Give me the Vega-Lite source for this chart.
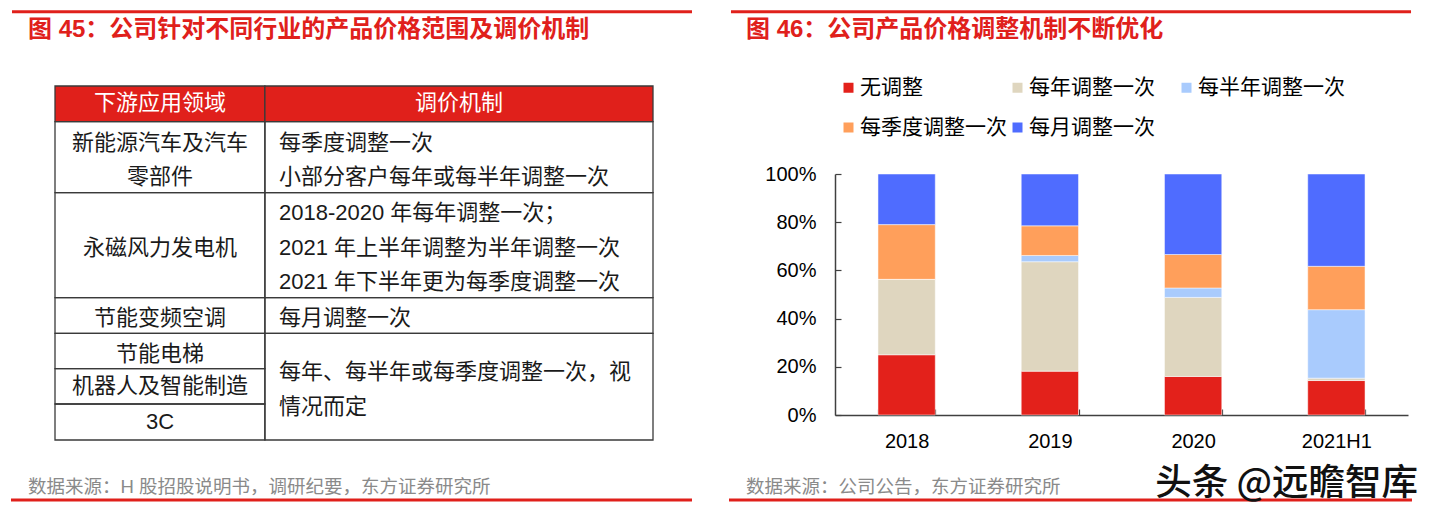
{
  "$schema": "https://vega.github.io/schema/vega-lite/v6.json",
  "width": 1433,
  "height": 516,
  "padding": 0,
  "autosize": {"type": "none"},
  "background": "white",
  "config": {
    "view": {"stroke": null},
    "font": "Liberation Sans, Noto Sans CJK SC",
    "text": {"font": "Liberation Sans, Noto Sans CJK SC"}
  },
  "datasets": {
    "bars": [
      {"period": "2018", "mechanism": "无调整", "rank": 1, "share": 25.0},
      {"period": "2018", "mechanism": "每年调整一次", "rank": 2, "share": 31.3},
      {"period": "2018", "mechanism": "每半年调整一次", "rank": 3, "share": 0.0},
      {"period": "2018", "mechanism": "每季度调整一次", "rank": 4, "share": 22.7},
      {"period": "2018", "mechanism": "每月调整一次", "rank": 5, "share": 21.0},
      {"period": "2019", "mechanism": "无调整", "rank": 1, "share": 18.2},
      {"period": "2019", "mechanism": "每年调整一次", "rank": 2, "share": 45.4},
      {"period": "2019", "mechanism": "每半年调整一次", "rank": 3, "share": 2.6},
      {"period": "2019", "mechanism": "每季度调整一次", "rank": 4, "share": 12.3},
      {"period": "2019", "mechanism": "每月调整一次", "rank": 5, "share": 21.5},
      {"period": "2020", "mechanism": "无调整", "rank": 1, "share": 16.0},
      {"period": "2020", "mechanism": "每年调整一次", "rank": 2, "share": 32.8},
      {"period": "2020", "mechanism": "每半年调整一次", "rank": 3, "share": 3.9},
      {"period": "2020", "mechanism": "每季度调整一次", "rank": 4, "share": 13.9},
      {"period": "2020", "mechanism": "每月调整一次", "rank": 5, "share": 33.4},
      {"period": "2021H1", "mechanism": "无调整", "rank": 1, "share": 14.3},
      {"period": "2021H1", "mechanism": "每年调整一次", "rank": 2, "share": 1.0},
      {"period": "2021H1", "mechanism": "每半年调整一次", "rank": 3, "share": 28.4},
      {"period": "2021H1", "mechanism": "每季度调整一次", "rank": 4, "share": 18.0},
      {"period": "2021H1", "mechanism": "每月调整一次", "rank": 5, "share": 38.3}
    ],
    "cells": [
      {"part": "head", "x0": 0, "x1": 0.351, "y0": 0, "y1": 10.08},
      {"part": "head", "x0": 0.351, "x1": 1, "y0": 0, "y1": 10.08},
      {"part": "body", "x0": 0, "x1": 0.351, "y0": 10.08, "y1": 30.14},
      {"part": "body", "x0": 0.351, "x1": 1, "y0": 10.08, "y1": 30.14},
      {"part": "body", "x0": 0, "x1": 0.351, "y0": 30.14, "y1": 59.8},
      {"part": "body", "x0": 0.351, "x1": 1, "y0": 30.14, "y1": 59.8},
      {"part": "body", "x0": 0, "x1": 0.351, "y0": 59.8, "y1": 69.86},
      {"part": "body", "x0": 0.351, "x1": 1, "y0": 59.8, "y1": 69.86},
      {"part": "body", "x0": 0, "x1": 0.351, "y0": 69.86, "y1": 79.86},
      {"part": "body", "x0": 0, "x1": 0.351, "y0": 79.86, "y1": 89.83},
      {"part": "body", "x0": 0, "x1": 0.351, "y0": 89.83, "y1": 100},
      {"part": "body", "x0": 0.351, "x1": 1, "y0": 69.86, "y1": 100}
    ],
    "texts": [
      {"col": "head", "xc": 0.1756, "line": 4.9, "t": "下游应用领域"},
      {"col": "head", "xc": 0.6756, "line": 4.9, "t": "调价机制"},
      {"col": "left", "xc": 0.1756, "line": 16.2, "t": "新能源汽车及汽车"},
      {"col": "left", "xc": 0.1756, "line": 25.8, "t": "零部件"},
      {"col": "left", "xc": 0.1756, "line": 45.8, "t": "永磁风力发电机"},
      {"col": "left", "xc": 0.1756, "line": 65.6, "t": "节能变频空调"},
      {"col": "left", "xc": 0.1756, "line": 75.7, "t": "节能电梯"},
      {"col": "left", "xc": 0.1756, "line": 84.7, "t": "机器人及智能制造"},
      {"col": "left", "xc": 0.1756, "line": 94.8, "t": "3C"},
      {"col": "right", "xc": 0.3746, "line": 16.2, "t": "每季度调整一次"},
      {"col": "right", "xc": 0.3746, "line": 25.8, "t": "小部分客户每年或每半年调整一次"},
      {"col": "right", "xc": 0.3746, "line": 36.0, "t": "2018-2020 年每年调整一次；"},
      {"col": "right", "xc": 0.3746, "line": 45.8, "t": "2021 年上半年调整为半年调整一次"},
      {"col": "right", "xc": 0.3746, "line": 55.3, "t": "2021 年下半年更为每季度调整一次"},
      {"col": "right", "xc": 0.3746, "line": 65.6, "t": "每月调整一次"},
      {"col": "right", "xc": 0.3746, "line": 80.7, "t": "每年、每半年或每季度调整一次，视"},
      {"col": "right", "xc": 0.3746, "line": 90.6, "t": "情况而定"}
    ]
  },
  "resolve": {"scale": {"x": "independent", "y": "independent"}},
  "layer": [
    {
      "data": {"name": "bars"},
      "mark": {"type": "bar", "stroke": "white", "strokeWidth": 0.5},
      "encoding": {
        "x": {
          "field": "period", "type": "ordinal", "sort": null,
          "scale": {"range": [835, 1408], "paddingInner": 0.6, "paddingOuter": 0.3},
          "axis": {
            "orient": "bottom", "offset": -101, "title": null, "labelAngle": 0,
            "labelFontSize": 20, "labelColor": "#000000", "labelFont": "Liberation Sans",
            "labelPadding": 22, "domainColor": "#404040", "domainWidth": 1.5,
            "tickBand": "extent", "tickSize": -6, "tickColor": "#404040", "tickWidth": 1.2
          }
        },
        "y": {
          "field": "share", "type": "quantitative", "stack": "normalize",
          "scale": {"domain": [0, 1], "range": [415, 174], "nice": false},
          "axis": {
            "orient": "left", "offset": -835, "title": null, "format": ".0%",
            "values": [0, 0.2, 0.4, 0.6, 0.8, 1], "labelFontSize": 20, "labelColor": "#000000",
            "labelFont": "Liberation Sans", "labelPadding": 25, "domainColor": "#404040",
            "domainWidth": 1.5, "tickSize": -6, "tickColor": "#404040", "tickWidth": 1.2, "grid": false
          }
        },
        "order": {"field": "rank", "type": "quantitative", "sort": "ascending"},
        "color": {
          "field": "mechanism", "type": "nominal",
          "sort": ["无调整", "每年调整一次", "每半年调整一次", "每季度调整一次", "每月调整一次"],
          "scale": {
            "domain": ["无调整", "每年调整一次", "每半年调整一次", "每季度调整一次", "每月调整一次"],
            "range": ["#E3211B", "#DFD6BF", "#A9CBFD", "#FF9F5B", "#4F6CFF"]
          },
          "legend": {
            "orient": "none", "legendX": 838, "legendY": 77, "title": null, "columns": 3,
            "direction": "horizontal", "gridAlign": "all", "symbolType": "square", "symbolSize": 100,
            "symbolStrokeWidth": 0, "labelFontSize": 21, "labelFont": "Noto Sans CJK SC",
            "labelColor": "#000000", "labelOffset": 1, "columnPadding": 0, "rowPadding": 18,
            "labelLimit": 300
          }
        }
      }
    },
    {
      "layer": [
        {
          "data": {"name": "cells"},
          "transform": [{"filter": "datum.part == 'head'"}],
          "mark": {"type": "rect", "fill": "#E0201B", "stroke": "#3a3a3a", "strokeWidth": 1.3},
          "encoding": {
            "x": {"field": "x0", "type": "quantitative", "scale": {"domain": [0, 1], "range": [55, 653]}, "axis": null},
            "x2": {"field": "x1"},
            "y": {"field": "y0", "type": "quantitative", "scale": {"domain": [0, 100], "range": [86, 440]}, "axis": null},
            "y2": {"field": "y1"}
          }
        },
        {
          "data": {"name": "cells"},
          "transform": [{"filter": "datum.part == 'body'"}],
          "mark": {"type": "rect", "fill": "transparent", "stroke": "#3a3a3a", "strokeWidth": 1.3},
          "encoding": {
            "x": {"field": "x0", "type": "quantitative", "axis": null},
            "x2": {"field": "x1"},
            "y": {"field": "y0", "type": "quantitative", "axis": null},
            "y2": {"field": "y1"}
          }
        },
        {
          "data": {"name": "texts"},
          "transform": [{"filter": "datum.col == 'head'"}],
          "mark": {"type": "text", "align": "center", "baseline": "middle", "fontSize": 22, "fill": "#ffffff", "font": "Noto Sans CJK SC"},
          "encoding": {
            "x": {"field": "xc", "type": "quantitative", "axis": null},
            "y": {"field": "line", "type": "quantitative", "axis": null},
            "text": {"field": "t"}
          }
        },
        {
          "data": {"name": "texts"},
          "transform": [{"filter": "datum.col == 'left'"}],
          "mark": {"type": "text", "align": "center", "baseline": "middle", "fontSize": 22, "fill": "#1a1a1a"},
          "encoding": {
            "x": {"field": "xc", "type": "quantitative", "axis": null},
            "y": {"field": "line", "type": "quantitative", "axis": null},
            "text": {"field": "t"}
          }
        },
        {
          "data": {"name": "texts"},
          "transform": [{"filter": "datum.col == 'right'"}],
          "mark": {"type": "text", "align": "left", "baseline": "middle", "fontSize": 22, "fill": "#1a1a1a"},
          "encoding": {
            "x": {"field": "xc", "type": "quantitative", "axis": null},
            "y": {"field": "line", "type": "quantitative", "axis": null},
            "text": {"field": "t"}
          }
        },
        {
          "data": {"values": [{}]},
          "mark": {"type": "rule", "stroke": "#E0201B", "strokeWidth": 3},
          "encoding": {
            "x": {"datum": -0.0719, "type": "quantitative", "axis": null},
            "x2": {"datum": 1.0652},
            "y": {"datum": -21.0, "type": "quantitative", "axis": null}
          }
        },
        {
          "data": {"values": [{}]},
          "mark": {"type": "rule", "stroke": "#E0201B", "strokeWidth": 3},
          "encoding": {
            "x": {"datum": -0.0736, "type": "quantitative", "axis": null},
            "x2": {"datum": 1.0652},
            "y": {"datum": 116.95, "type": "quantitative", "axis": null}
          }
        },
        {
          "data": {"values": [{}]},
          "mark": {"type": "rule", "stroke": "#E0201B", "strokeWidth": 3},
          "encoding": {
            "x": {"datum": 1.1304, "type": "quantitative", "axis": null},
            "x2": {"datum": 2.2676},
            "y": {"datum": -21.0, "type": "quantitative", "axis": null}
          }
        },
        {
          "data": {"values": [{}]},
          "mark": {"type": "rule", "stroke": "#E0201B", "strokeWidth": 3},
          "encoding": {
            "x": {"datum": 1.1271, "type": "quantitative", "axis": null},
            "x2": {"datum": 2.2692},
            "y": {"datum": 116.95, "type": "quantitative", "axis": null}
          }
        },
        {
          "data": {"values": [{}]},
          "mark": {"type": "text", "align": "left", "baseline": "middle", "fontSize": 24, "fontWeight": "bold", "fill": "#E0201B"},
          "encoding": {
            "x": {"datum": -0.0452, "type": "quantitative", "axis": null},
            "y": {"datum": -15.8, "type": "quantitative", "axis": null},
            "text": {"value": "图 45：公司针对不同行业的产品价格范围及调价机制"}
          }
        },
        {
          "data": {"values": [{}]},
          "mark": {"type": "text", "align": "left", "baseline": "middle", "fontSize": 24, "fontWeight": "bold", "fill": "#E0201B"},
          "encoding": {
            "x": {"datum": 1.1555, "type": "quantitative", "axis": null},
            "y": {"datum": -15.8, "type": "quantitative", "axis": null},
            "text": {"value": "图 46：公司产品价格调整机制不断优化"}
          }
        },
        {
          "data": {"values": [{}]},
          "mark": {"type": "text", "align": "left", "baseline": "middle", "fontSize": 18.5, "fill": "#8a8a8a"},
          "encoding": {
            "x": {"datum": -0.0452, "type": "quantitative", "axis": null},
            "y": {"datum": 113.3, "type": "quantitative", "axis": null},
            "text": {"value": "数据来源：H 股招股说明书，调研纪要，东方证券研究所"}
          }
        },
        {
          "data": {"values": [{}]},
          "mark": {"type": "text", "align": "left", "baseline": "middle", "fontSize": 18.5, "fill": "#8a8a8a"},
          "encoding": {
            "x": {"datum": 1.1555, "type": "quantitative", "axis": null},
            "y": {"datum": 113.3, "type": "quantitative", "axis": null},
            "text": {"value": "数据来源：公司公告，东方证券研究所"}
          }
        },
        {
          "data": {"values": [{}]},
          "mark": {"type": "text", "align": "right", "baseline": "middle", "fontSize": 36.5, "fontWeight": 500, "fill": "#111111", "font": "Noto Sans CJK SC"},
          "encoding": {
            "x": {"datum": 2.2793, "type": "quantitative", "axis": null},
            "y": {"datum": 112.4, "type": "quantitative", "axis": null},
            "text": {"value": "头条 @远瞻智库"}
          }
        }
      ]
    }
  ]
}
